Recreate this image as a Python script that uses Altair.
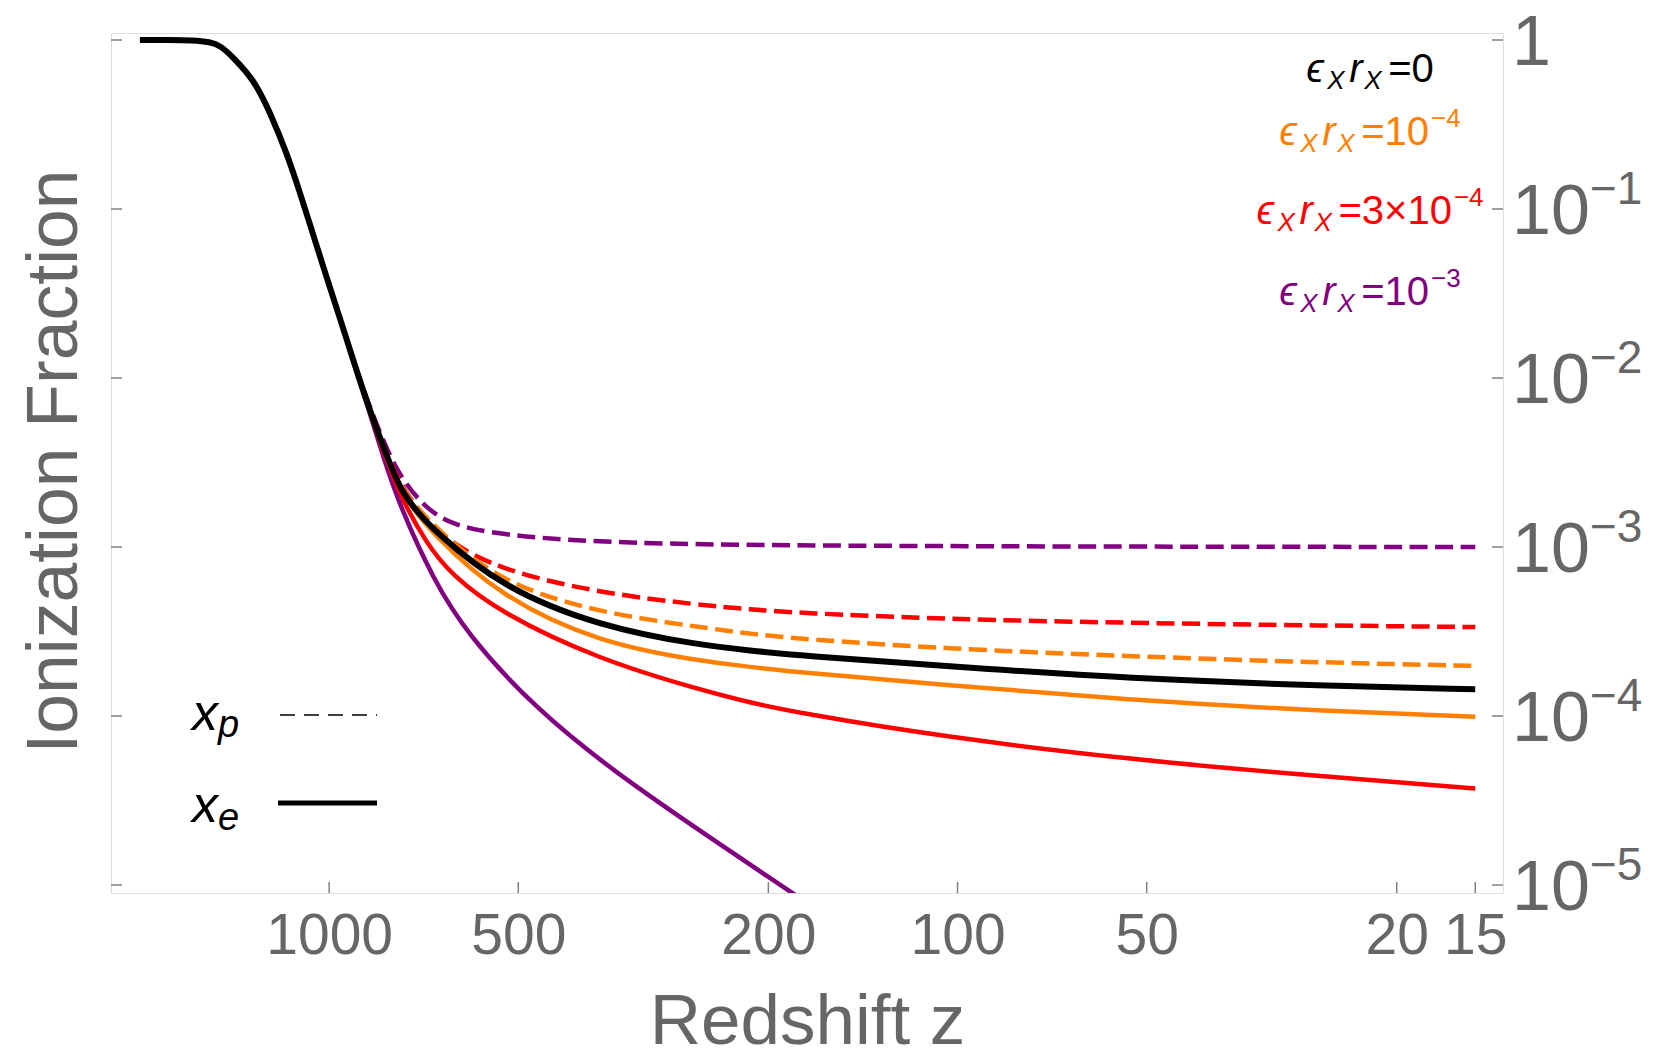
import altair as alt
import pandas as pd

# ---------------- data ----------------
# common recombination part (all curves coincide here)
z_early = [2000, 1800, 1650, 1546, 1490, 1422, 1352, 1303, 1242, 1168, 1112, 1059, 1009, 960, 914]
f_early = [1.0, 1.0, 0.996, 0.973, 0.928, 0.79, 0.645, 0.532, 0.374, 0.2145, 0.124, 0.0695, 0.0392, 0.0223, 0.0125]

# eps_X r_X = 0  (x_e)
z_k_e = [871, 820, 771, 720, 682, 534, 371, 257, 214, 178, 106, 52.6, 26.1, 15]
f_k_e = [7.22e-3, 3.92e-3, 2.17e-3, 1.58e-3, 1.26e-3, 5.82e-4, 3.38e-4, 2.63e-4, 2.44e-4, 2.28e-4, 1.98e-4, 1.66e-4, 1.51e-4, 1.44e-4]

# eps_X r_X = 1e-4
z_o_e = [871, 820, 771, 682, 534, 371, 257, 214, 178, 106, 52.6, 26.1, 15]
f_o_e = [7.2e-3, 3.88e-3, 2.1e-3, 1.17e-3, 5.08e-4, 2.7e-4, 2.12e-4, 1.95e-4, 1.81e-4, 1.53e-4, 1.24e-4, 1.07e-4, 9.9e-5]
z_o_p = [871, 820, 771, 682, 534, 371, 257, 214, 178, 106, 52.6, 26.1, 15]
f_o_p = [7.25e-3, 3.95e-3, 2.2e-3, 1.32e-3, 6.12e-4, 4.07e-4, 3.36e-4, 3.06e-4, 2.86e-4, 2.51e-4, 2.25e-4, 2.07e-4, 1.98e-4]

# eps_X r_X = 3e-4
z_r_e = [871, 820, 771, 700, 641, 534, 371, 257, 214, 178, 106, 52.6, 26.1, 15]
f_r_e = [7.15e-3, 3.7e-3, 2.0e-3, 1.05e-3, 6.92e-4, 4.07e-4, 2.15e-4, 1.43e-4, 1.2e-4, 1.04e-4, 7.55e-5, 5.5e-5, 4.38e-5, 3.73e-5]
z_r_p = [871, 820, 771, 700, 641, 534, 371, 257, 214, 178, 106, 52.6, 26.1, 15]
f_r_p = [7.3e-3, 4.0e-3, 2.3e-3, 1.45e-3, 1.06e-3, 7.31e-4, 5.34e-4, 4.54e-4, 4.27e-4, 4.07e-4, 3.75e-4, 3.55e-4, 3.43e-4, 3.36e-4]

# eps_X r_X = 1e-3
z_p_e = [871, 820, 771, 682, 604, 473, 340, 183, 175]
f_p_e = [7.05e-3, 3.4e-3, 1.73e-3, 6.38e-4, 3.08e-4, 1.13e-4, 4.18e-5, 8.97e-6, 8.0e-6]
z_p_p = [871, 820, 771, 708, 641, 534, 371, 178, 15]
f_p_p = [7.5e-3, 4.2e-3, 2.6e-3, 1.75e-3, 1.35e-3, 1.18e-3, 1.06e-3, 1.01e-3, 1.0e-3]

x_ticks = [1000, 500, 200, 100, 50, 20, 15]
y_ticks = [1, 1e-1, 1e-2, 1e-3, 1e-4, 1e-5]
y_tick_base = ["1", "10", "10", "10", "10", "10"]
y_tick_exp = ["", "−1", "−2", "−3", "−4", "−5"]

eps_names = ["0", "1e-4", "3e-4", "1e-3"]
eps_colors = ["#000000", "#FF8000", "#FF0000", "#800080"]
legend_main = ["0", "10", "3×10", "10"]
legend_exp = ["", "−4", "−4", "−3"]

# ---------------- build tables ----------------
def curve(eps, kind, zs, fs):
    return pd.DataFrame({"z": z_early + zs, "f": f_early + fs, "eps": eps, "kind": kind,
                         "curve": eps + "_" + kind})

df = pd.concat([
    curve("1e-3", "p", z_p_p, f_p_p),
    curve("3e-4", "p", z_r_p, f_r_p),
    curve("1e-4", "p", z_o_p, f_o_p),
    curve("1e-3", "e", z_p_e, f_p_e),
    curve("3e-4", "e", z_r_e, f_r_e),
    curve("1e-4", "e", z_o_e, f_o_e),
    curve("0", "e", z_k_e, f_k_e),
], ignore_index=True)

FONT = "Liberation Sans, DejaVu Sans, Arial, sans-serif"
GREY = "#666666"
FRAME = "#808080"
W, H = 1392, 860

xscale = alt.Scale(type="log", domain=[13.55, 2224], reverse=True, nice=False)
yscale = alt.Scale(type="log", domain=[8.97e-6, 1.1], nice=False)

X = alt.X("z:Q", scale=xscale,
          axis=alt.Axis(values=x_ticks, format="d", ticks=False, tickSize=0, domain=False, grid=False,
                        labelFont=FONT, labelFontSize=57, labelColor=GREY, labelPadding=60,
                        labelBaseline="alphabetic", labelFlush=False, labelOverlap=False,
                        title="Redshift z", titleFont=FONT, titleFontSize=71, titleColor=GREY,
                        titleFontWeight="normal", titleBaseline="alphabetic", titleY=150))
Y = alt.Y("f:Q", scale=yscale,
          axis=alt.Axis(values=y_ticks, labels=False, ticks=False, tickSize=0, domain=False, grid=False,
                        title="Ionization Fraction", titleFont=FONT, titleFontSize=71.5, titleColor=GREY,
                        titleFontWeight="normal", titleAngle=270, titleBaseline="alphabetic",
                        titleAlign="center", titleX=-35, titleY=428))

color = alt.Color("eps:N", scale=alt.Scale(domain=eps_names, range=eps_colors), legend=None)

base = alt.Chart(df)
dashed = base.transform_filter(alt.datum.kind == "p").mark_line(
    strokeDash=[18, 7.5], strokeWidth=4.5, clip=True, interpolate="basis").encode(
    x=X, y=Y, color=color, detail="curve:N")
solid = base.transform_filter((alt.datum.kind == "e") & (alt.datum.eps != "0")).mark_line(
    strokeWidth=4.5, clip=True, interpolate="basis").encode(
    x=X, y=Y, color=color, detail="curve:N")
black = base.transform_filter(alt.datum.eps == "0").mark_line(
    strokeWidth=6, clip=True, interpolate="basis", color="black").encode(x=X, y=Y)

# inward frame ticks
xt = pd.DataFrame({"z": x_ticks})
yt = pd.DataFrame({"f": y_ticks, "base": y_tick_base, "exp": y_tick_exp})
tick_style = dict(color=FRAME, strokeWidth=1.5)
xtick = alt.Chart(xt).mark_rule(**tick_style).encode(x=X, y=alt.value(H - 11), y2=alt.value(H))
ytick_l = alt.Chart(yt).mark_rule(**tick_style).encode(y=Y, x=alt.value(0), x2=alt.value(11))
ytick_r = alt.Chart(yt).mark_rule(**tick_style).encode(y=Y, x=alt.value(W - 11), x2=alt.value(W))

# right-side y labels with superscripts
ylab = alt.Chart(yt).mark_text(align="left", baseline="alphabetic", font=FONT, fontSize=70,
                               color=GREY, dy=25).encode(y=Y, x=alt.value(W + 9), text="base:N")
yexp = alt.Chart(yt).mark_text(align="left", baseline="alphabetic", font=FONT, fontSize=46,
                               color=GREY, dy=-5).encode(y=Y, x=alt.value(W + 9 + 78), text="exp:N")

one = pd.DataFrame({"k": [0]})


def seg(text, x, y, size, col, italic):
    return alt.Chart(one).mark_text(text=text, align="left", baseline="alphabetic", font=FONT,
                                    fontSize=size, color=col,
                                    fontStyle="italic" if italic else "normal").encode(
        x=alt.value(x), y=alt.value(y))


CW = {"=": 0.584, "×": 0.584, "−": 0.584}
def width(s, size):
    return sum(CW.get(c, 0.556) for c in s) * size

# top-right legend (epsilon_X r_X = ...)
legend_layers = []
baselines = [49, 112, 191, 272]
cx = 1259
for main, ex, col, by in zip(legend_main, legend_exp, eps_colors, baselines):
    total = 82 + width("=" + main, 40) + (width(ex, 26) + 2 if ex else 0)
    x0 = cx - total / 2
    legend_layers += [
        seg("ϵ", x0, by, 40, col, True),
        seg("X", x0 + 21, by + 7, 26, col, True),
        seg("r", x0 + 43, by, 40, col, True),
        seg("X", x0 + 58, by + 7, 26, col, True),
        seg("=" + main, x0 + 82, by, 40, col, False),
    ]
    if ex:
        legend_layers.append(seg(ex, x0 + 82 + width("=" + main, 40) + 2, by - 18, 26, col, False))

# bottom-left line-style legend
legend_layers += [
    seg("x", 81, 697, 52, "black", True),
    seg("p", 107, 704, 38, "black", True),
    seg("x", 81, 789, 52, "black", True),
    seg("e", 107, 797, 38, "black", True),
    alt.Chart(one).mark_rule(color="black", strokeWidth=1.6, strokeDash=[15, 9]).encode(
        x=alt.value(169), x2=alt.value(266), y=alt.value(682)),
    alt.Chart(one).mark_rule(color="black", strokeWidth=5).encode(
        x=alt.value(167), x2=alt.value(266), y=alt.value(770)),
]

chart = alt.layer(dashed, solid, black, xtick, ytick_l, ytick_r, ylab, yexp, *legend_layers).properties(
    width=W, height=H,
    autosize=alt.AutoSizeParams(type="none"),
    padding={"left": 111, "top": 33, "right": 154, "bottom": 164},
    background="white",
).configure_view(stroke=FRAME, strokeWidth=1.5).configure(font=FONT)

chart.save("out.html", embed_options={"renderer": "svg", "actions": False})
